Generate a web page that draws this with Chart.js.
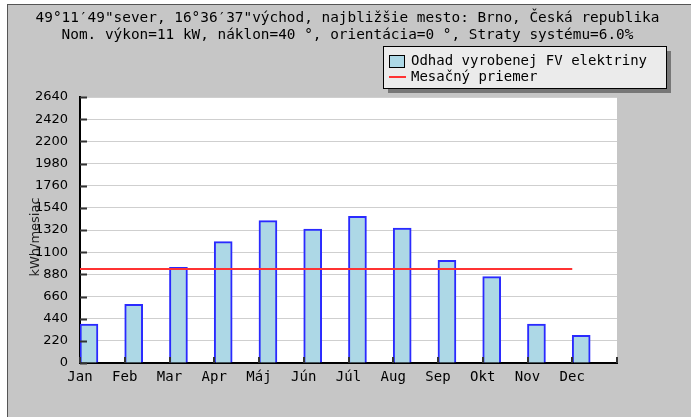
<!DOCTYPE html>
<html>
<head>
<meta charset="utf-8">
<script src="https://cdn.jsdelivr.net/npm/chart.js@4"></script>
<style>
  body { margin: 0; background: #fff; }
  #wrap { position: absolute; left: 7px; top: 4px; border-left: 1px solid #555; border-top: 1px solid #555; }
  canvas { display: block; }
</style>
</head>
<body>
<div id="wrap"><canvas id="myChart" width="683" height="412"></canvas></div>
<script>
const months = ['Jan', 'Feb', 'Mar', 'Apr', 'Máj', 'Jún', 'Júl', 'Aug', 'Sep', 'Okt', 'Nov', 'Dec'];
const production = [387, 582, 950, 1204, 1413, 1330, 1456, 1340, 1019, 857, 387, 275];
const monthlyMean = [933, 933, 933, 933, 933, 933, 933, 933, 933, 933, 933, 933];
const titleLines = [
    '49°11′49"sever, 16°36′37"východ, najbližšie mesto: Brno, Česká republika',
    'Nom. výkon=11 kW, náklon=40 °, orientácia=0 °, Straty systému=6.0%'
];
const yTitle = 'kWh/mesiac';

const mono = "'DejaVu Sans Mono', monospace";

// gray page + white plot area
const background = {
    id: 'background',
    beforeDraw(chart) {
        const { ctx, chartArea: a } = chart;
        ctx.save();
        ctx.fillStyle = '#c6c6c6';
        ctx.fillRect(0, 0, chart.width, chart.height);
        ctx.fillStyle = '#fff';
        ctx.fillRect(a.left, a.top, a.right - a.left, a.bottom - a.top);
        ctx.restore();
    }
};

// tick marks pointing into the plot, titles, boxed legend
const extras = {
    id: 'extras',
    afterDatasetsDraw(chart) {
        const { ctx, chartArea: a, scales } = chart;
        ctx.save();
        ctx.strokeStyle = '#333';
        ctx.lineWidth = 2;
        ctx.beginPath();
        scales.y.ticks.forEach(t => {
            const y = Math.round(scales.y.getPixelForValue(t.value)) + 0.5;
            ctx.moveTo(a.left, y);
            ctx.lineTo(a.left + 7, y);
        });
        scales.x.ticks.forEach(t => {
            const x = Math.round(scales.x.getPixelForValue(t.value));
            ctx.moveTo(x, a.bottom);
            ctx.lineTo(x, a.bottom - 6);
        });
        ctx.stroke();
        ctx.restore();
    },
    afterDraw(chart) {
        const { ctx, chartArea: a } = chart;

        // two-line header centred on the whole image
        ctx.save();
        ctx.font = '14.4px ' + mono;
        ctx.fillStyle = '#000';
        ctx.textAlign = 'center';
        ctx.textBaseline = 'middle';
        titleLines.forEach((t, i) => ctx.fillText(t, chart.width / 2 - 2, 13 + i * 17));
        ctx.restore();

        ctx.save();
        ctx.translate(a.left - 44, (a.top + a.bottom) / 2 + 7);
        ctx.rotate(-Math.PI / 2);
        ctx.font = "13px 'DejaVu Sans', sans-serif";
        ctx.fillStyle = '#222';
        ctx.textAlign = 'center';
        ctx.textBaseline = 'middle';
        ctx.fillText(yTitle, 0, 0);
        ctx.restore();

        // legend box
        const bx = 375, by = 41, bw = 283, bh = 42;
        ctx.save();
        ctx.fillStyle = '#777';
        ctx.fillRect(bx + 5, by + 5, bw, bh);
        ctx.fillStyle = '#ebebeb';
        ctx.fillRect(bx, by, bw, bh);
        ctx.strokeStyle = '#000';
        ctx.lineWidth = 1;
        ctx.strokeRect(bx + 0.5, by + 0.5, bw, bh);
        const ds = chart.data.datasets;
        ctx.font = '14px ' + mono;
        ctx.textBaseline = 'middle';
        ctx.fillStyle = ds[0].backgroundColor;
        ctx.fillRect(bx + 6, by + 9, 15, 12);
        ctx.strokeStyle = '#000';
        ctx.strokeRect(bx + 6.5, by + 9.5, 15, 12);
        ctx.fillStyle = '#000';
        ctx.fillText(ds[0].label, bx + 28, by + 15);
        ctx.strokeStyle = ds[1].borderColor;
        ctx.lineWidth = 2;
        ctx.beginPath();
        ctx.moveTo(bx + 6, by + 31);
        ctx.lineTo(bx + 23, by + 31);
        ctx.stroke();
        ctx.fillText(ds[1].label, bx + 28, by + 31);
        ctx.restore();
    }
};

const ctx = document.getElementById('myChart').getContext('2d');
const myChart = new Chart(ctx, {
    type: 'bar',
    data: {
        datasets: [
            {
                label: 'Odhad vyrobenej FV elektriny',
                data: production.map((v, i) => ({ x: i + 0.2, y: v })),
                backgroundColor: '#add8e6',
                borderColor: '#2a2aff',
                borderWidth: 2,
                barThickness: 18,
                order: 2
            },
            {
                type: 'line',
                label: 'Mesačný priemer',
                data: monthlyMean.map((v, i) => ({ x: i, y: v })),
                borderColor: '#ff3333',
                borderWidth: 2,
                pointRadius: 0,
                order: 1
            }
        ]
    },
    options: {
        responsive: false,
        animation: false,
        devicePixelRatio: 1,
        layout: { padding: { left: 0, top: 92, right: 74, bottom: 0 } },
        plugins: {
            legend: { display: false },
            tooltip: { enabled: false },
            title: { display: false }
        },
        scales: {
            x: {
                type: 'linear',
                min: 0,
                max: 12,
                offset: false,
                grid: { display: false, drawTicks: false, offset: false },
                border: { display: true, color: '#000', width: 2 },
                ticks: {
                    stepSize: 1,
                    autoSkip: false,
                    maxRotation: 0,
                    padding: 6,
                    color: '#000',
                    font: { family: mono, size: 14 },
                    callback: v => months[v] ?? ''
                },
                afterFit: s => { s.height = 54; }
            },
            y: {
                min: 0,
                max: 2640,
                grid: { color: '#cfcfcf', drawTicks: false },
                border: { display: true, color: '#000', width: 2 },
                ticks: {
                    stepSize: 220,
                    padding: 12,
                    color: '#000',
                    font: { family: "'DejaVu Sans', sans-serif", size: 13 },
                    callback: v => String(v)
                },
                afterFit: s => { s.width = 72; }
            }
        }
    },
    plugins: [background, extras]
});
</script>
</body>
</html>
